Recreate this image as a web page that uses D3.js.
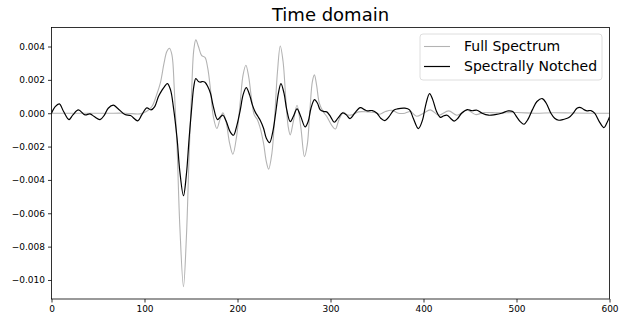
<!DOCTYPE html>
<html>
<head>
<meta charset="utf-8">
<script src="https://cdn.jsdelivr.net/npm/d3@7"></script>
<style>
  body { margin: 0; background: #fff; }
  svg { font-family: "DejaVu Sans", sans-serif; }
</style>
</head>
<body>
<svg id="chart"></svg>
<script>
// sample positions / values
const fullX = [0, 20, 40, 60, 80, 95, 102, 108, 113, 117, 121, 124, 126.8, 129.5, 132, 135, 138, 141.9, 145, 148, 151, 153, 155.2, 158, 161.5, 165, 168, 171, 174, 177.8, 181, 184.3, 188, 191.5, 195, 199, 203, 206, 209, 212, 215, 218, 221, 224, 228, 231, 233.5, 237, 240, 243, 246, 249, 252, 254.5, 256.7, 260, 264, 268, 272, 275, 278, 280.5, 282.7, 285, 288, 292, 296, 301, 305.2, 309, 314, 318, 323, 330, 340, 347, 353, 359, 366, 373, 380, 386, 392.5, 400, 407.4, 416.4, 427, 436, 447, 456, 465, 480, 500, 520, 540, 560, 580, 600];
const fullY = [0, 0, 0, 0, 0, -0.00004, 0.0001, 0.0004, 0.0011, 0.0018, 0.003, 0.0037, 0.0039, 0.0035, 0.0015, -0.002, -0.0068, -0.0104, -0.0075, -0.0025, 0.0018, 0.0038, 0.0044, 0.004, 0.00345, 0.00335, 0.0027, 0.0014, -0.0002, -0.00092, -0.0004, 0.00002, -0.0006, -0.0018, -0.00246, -0.0014, 0.0007, 0.0023, 0.00288, 0.0022, 0.0009, -0.0001, -0.00035, -0.0008, -0.0018, -0.0029, -0.00335, -0.0024, -0.0002, 0.0025, 0.00403, 0.0031, 0.0008, -0.0008, -0.0013, -0.0005, 0.00048, -0.0008, -0.0026, -0.0019, 0.0003, 0.0019, 0.0023, 0.0017, 0.0006, 0.0001, -0.0002, -0.0007, -0.00095, -0.0004, 0.00005, -0.0001, -0.0001, 0.00008, 0.00008, 0.00005, -0.00006, 0.0001, 0.00018, 0, 0, 0.0001, -0.00018, 0, 0.0002, -0.00012, 0.00014, -0.00012, 0.00018, -0.00008, 0.00004, 0.00002, 0.00004, 0, 0.00003, 0.00001, 0, 0];

const notchX = [0, 4, 8.4, 13, 18.8, 23, 28.9, 36, 41.4, 46, 52.2, 57, 61, 66.5, 71, 79, 85, 92.8, 97, 102.5, 107, 111, 115, 119, 121.5, 124.7, 128, 131, 135, 138, 141.9, 145, 148, 151, 153, 155.2, 158, 160, 162, 165, 168, 171, 174, 178.5, 182, 184.3, 188, 192, 195.7, 199, 203, 206, 209.4, 213, 216, 219, 222, 224.4, 228, 231, 234.5, 238, 241, 244, 246.7, 250, 253, 256.7, 260, 264, 268, 272.7, 276, 279, 282.8, 286, 289, 293, 296, 300, 304, 308, 313, 317, 321, 326, 332, 337, 340, 345, 350, 354, 358.5, 363, 368, 372, 380, 385, 389, 394.5, 399, 402, 406.5, 410, 414, 418.2, 422, 425.4, 429, 433, 437, 441, 447, 452, 457.5, 463, 470, 477, 484, 491, 496, 500, 504, 508, 512, 517, 522, 527.7, 532, 537, 541, 545.5, 551, 556.3, 561, 565, 569, 573, 576, 580, 584, 589, 594, 597, 600];
const notchY = [0, 0.0004, 0.00056, 0.0001, -0.00038, -0.0001, 0.0002, -0.0001, -0.00004, -0.0002, -0.00038, -0.0001, 0.0003, 0.00048, 0.0003, -0.00008, -0.00014, -0.00046, -0.0001, 0.00032, 0.0002, 0.0004, 0.001, 0.0014, 0.0016, 0.00178, 0.0014, 0.0004, -0.0015, -0.0035, -0.00495, -0.0037, -0.0015, 0.0005, 0.0016, 0.00208, 0.0019, 0.00186, 0.0019, 0.00186, 0.0016, 0.00118, 0.0004, -0.00038, -0.0002, -0.00012, -0.0005, -0.0011, -0.00132, -0.0008, 0.0002, 0.0011, 0.00154, 0.0011, 0.0005, 0.00008, -0.0002, -0.00042, -0.0009, -0.0015, -0.00176, -0.0011, 0, 0.0012, 0.00178, 0.0012, 0.0002, -0.0005, -0.0002, 0.00026, -0.0002, -0.00082, -0.0005, 0.0003, 0.00082, 0.0006, 0.0002, 0.0001, 0.00008, -0.0002, -0.00054, -0.0003, 0.00002, -0.0001, -0.00032, 0, 0.00034, 0.0002, 0.00014, 0.00016, 0, -0.0003, -0.00044, -0.0002, 0.00018, 0.00026, 0.0003, 0.0002, -0.0003, -0.00092, -0.0004, 0.0004, 0.00118, 0.0008, 0.0001, -0.00025, -0.00015, -0.00012, -0.0003, -0.00047, -0.0003, 0, 0.00022, 0.00015, 0.00018, 0, -0.00012, -0.00008, 0, 0.00014, 0.0001, -0.0002, -0.0005, -0.00066, -0.0004, 0.0002, 0.0007, 0.00088, 0.0006, 0, -0.0003, -0.00042, -0.00036, -0.00026, 0, 0.0003, 0.00034, 0.0002, 0.00014, 0.00016, 0, -0.0005, -0.00086, -0.0006, -0.00022];

const xTicks = [0, 100, 200, 300, 400, 500, 600];
const yTicks = [-0.010, -0.008, -0.006, -0.004, -0.002, 0.000, 0.002, 0.004];
const seriesNames = ["Full Spectrum", "Spectrally Notched"];
const seriesColors = ["#b3b3b3", "#000000"];

const config = {
    width: 626,
    height: 323,
    margin: { top: 27.5, right: 16.5, bottom: 24, left: 51.5 }
};

const svg = d3.select("#chart")
    .attr("width", config.width)
    .attr("height", config.height);

const innerW = config.width - config.margin.left - config.margin.right;
const innerH = config.height - config.margin.top - config.margin.bottom;

const chart = svg.append("g")
    .attr("transform", `translate(${config.margin.left},${config.margin.top})`);

const xScale = d3.scaleLinear().domain([0, 600]).range([0, innerW]);
const yScale = d3.scaleLinear().domain([-0.01114, 0.00514]).range([innerH, 0]);

// clip so lines stay inside the frame
chart.append("clipPath").attr("id", "clip")
    .append("rect").attr("width", innerW).attr("height", innerH);

const line = d3.line()
    .x(d => xScale(d[0]))
    .y(d => yScale(d[1]))
    .curve(d3.curveCatmullRom.alpha(0.5));

const series = [
    d3.zip(fullX, fullY),
    d3.zip(notchX, notchY)
];

chart.append("g").attr("clip-path", "url(#clip)")
    .selectAll("path")
    .data(series)
    .join("path")
    .attr("fill", "none")
    .attr("stroke", (d, i) => seriesColors[i])
    .attr("stroke-width", (d, i) => i === 0 ? 1.1 : 1.2)
    .attr("stroke-linejoin", "round")
    .attr("d", line);

// axes
const xAxis = d3.axisBottom(xScale).tickValues(xTicks).tickSize(3.5).tickPadding(3).tickFormat(d3.format("d"));
const yAxis = d3.axisLeft(yScale).tickValues(yTicks).tickSize(3.5).tickPadding(3).tickFormat(d3.format(".3f"));

const xAxisG = chart.append("g")
    .attr("transform", `translate(0,${innerH})`)
    .call(xAxis);
const yAxisG = chart.append("g").call(yAxis);

[xAxisG, yAxisG].forEach(g => {
    g.select(".domain").remove();
    g.selectAll("line").attr("stroke", "#000").attr("stroke-width", 0.8);
    g.selectAll("text").attr("fill", "#000").style("font-size", "9px").style("font-family", "DejaVu Sans");
});

// frame
chart.append("rect")
    .attr("width", innerW)
    .attr("height", innerH)
    .attr("fill", "none")
    .attr("stroke", "#000")
    .attr("stroke-width", 0.8);

// title
svg.append("text")
    .attr("x", config.margin.left + innerW / 2)
    .attr("y", 21)
    .attr("text-anchor", "middle")
    .style("font-size", "18px")
    .attr("fill", "#000")
    .text("Time domain");

// legend
const legend = svg.append("g").attr("transform", "translate(420,34)");
legend.append("rect")
    .attr("width", 182)
    .attr("height", 46)
    .attr("rx", 3)
    .attr("fill", "#fff")
    .attr("fill-opacity", 0.8)
    .attr("stroke", "#d6d6d6")
    .attr("stroke-width", 0.8);

const items = legend.selectAll(".item")
    .data(seriesNames)
    .join("g")
    .attr("class", "item")
    .attr("transform", (d, i) => `translate(0,${12.5 + i * 20})`);

items.append("line")
    .attr("x1", 4).attr("x2", 30)
    .attr("stroke", (d, i) => seriesColors[i])
    .attr("stroke-width", (d, i) => i === 0 ? 1.1 : 1.2);

items.append("text")
    .attr("x", 44)
    .attr("dy", "0.35em")
    .style("font-size", "14px")
    .attr("fill", "#000")
    .text(d => d);
</script>
</body>
</html>
